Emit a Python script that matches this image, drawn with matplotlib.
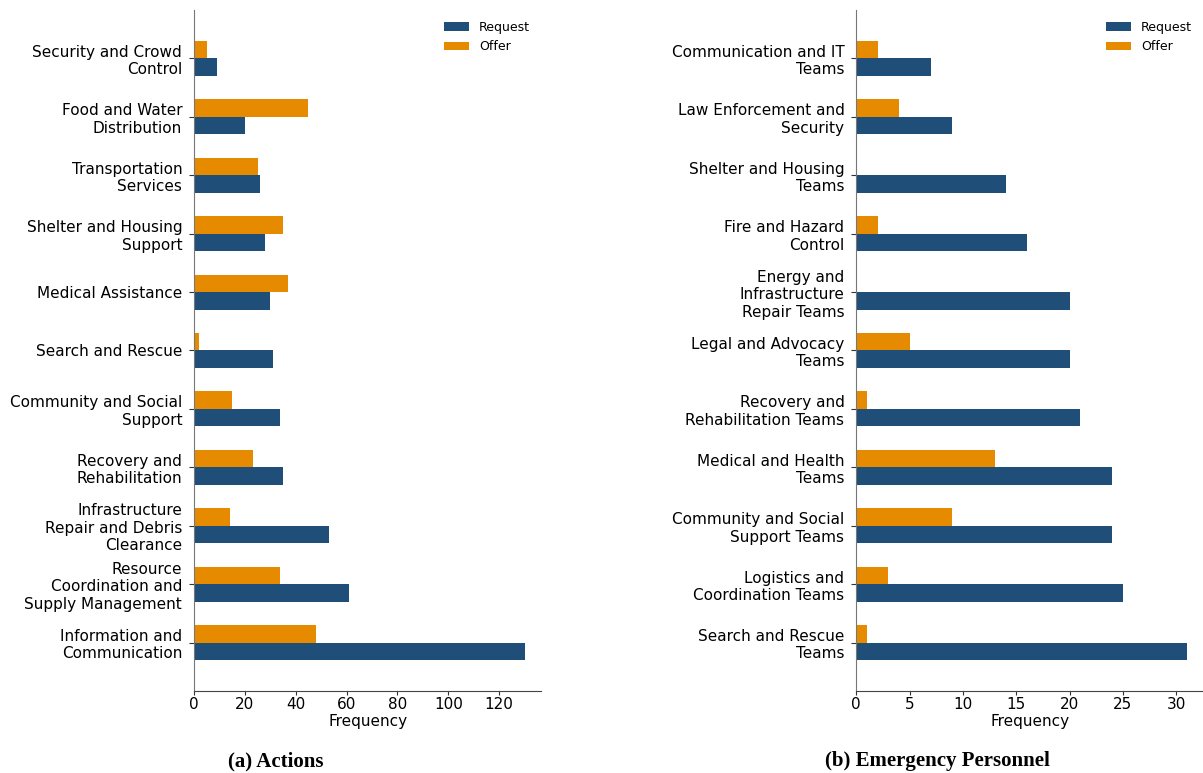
import numpy as np
import matplotlib
matplotlib.use("Agg")
import matplotlib.pyplot as plt

# Panel (a): actions, listed bottom to top
action_labels = [
    "Information and\nCommunication",
    "Resource\nCoordination and\nSupply Management",
    "Infrastructure\nRepair and Debris\nClearance",
    "Recovery and\nRehabilitation",
    "Community and Social\nSupport",
    "Search and Rescue",
    "Medical Assistance",
    "Shelter and Housing\nSupport",
    "Transportation\nServices",
    "Food and Water\nDistribution",
    "Security and Crowd\nControl",
]
action_request = [130, 61, 53, 35, 34, 31, 30, 28, 26, 20, 9]
action_offer = [48, 34, 14, 23, 15, 2, 37, 35, 25, 45, 5]

# Panel (b): emergency personnel, listed bottom to top
personnel_labels = [
    "Search and Rescue\nTeams",
    "Logistics and\nCoordination Teams",
    "Community and Social\nSupport Teams",
    "Medical and Health\nTeams",
    "Recovery and\nRehabilitation Teams",
    "Legal and Advocacy\nTeams",
    "Energy and\nInfrastructure\nRepair Teams",
    "Fire and Hazard\nControl",
    "Shelter and Housing\nTeams",
    "Law Enforcement and\nSecurity",
    "Communication and IT\nTeams",
]
personnel_request = [31, 25, 24, 24, 21, 20, 20, 16, 14, 9, 7]
personnel_offer = [1, 3, 9, 13, 1, 5, 0, 2, 0, 4, 2]

captions = ["(a) Actions", "(b) Emergency Personnel"]

REQ_COLOR = "#1f4e79"
OFF_COLOR = "#e68a00"
BAR_H = 0.3

fig = plt.figure(figsize=(12.03, 7.73), dpi=100)
ax1 = fig.add_axes([0.1613, 0.1061, 0.2885, 0.881])
ax2 = fig.add_axes([0.7118, 0.1061, 0.2885, 0.881])


def draw_panel(ax, labels, request, offer):
    y = np.arange(len(labels))
    ax.barh(y - BAR_H / 2, request, height=BAR_H, color=REQ_COLOR, label="Request")
    ax.barh(y + BAR_H / 2, offer, height=BAR_H, color=OFF_COLOR, label="Offer")
    ax.set_yticks(y)
    ax.set_yticklabels(labels, fontsize=11)
    ax.tick_params(axis="x", labelsize=11, length=3, pad=1.5, color="#333333")
    ax.tick_params(axis="y", length=3.5, pad=5, color="#333333")
    ax.set_xlabel("Frequency", fontsize=11, labelpad=1)
    ax.spines["top"].set_visible(False)
    ax.spines["right"].set_visible(False)
    ax.spines["left"].set_color("#777777")
    ax.spines["bottom"].set_color("#444444")
    ax.legend(loc="upper right", frameon=False, fontsize=9)


draw_panel(ax1, action_labels, action_request, action_offer)
draw_panel(ax2, personnel_labels, personnel_request, personnel_offer)

fig.text(0.229, 0.0155, captions[0], ha="center", va="center",
         fontsize=15, fontweight="bold", family="Liberation Serif")
fig.text(0.779, 0.0155, captions[1], ha="center", va="center",
         fontsize=15, fontweight="bold", family="Liberation Serif")

fig.savefig("out.png", dpi=100)
